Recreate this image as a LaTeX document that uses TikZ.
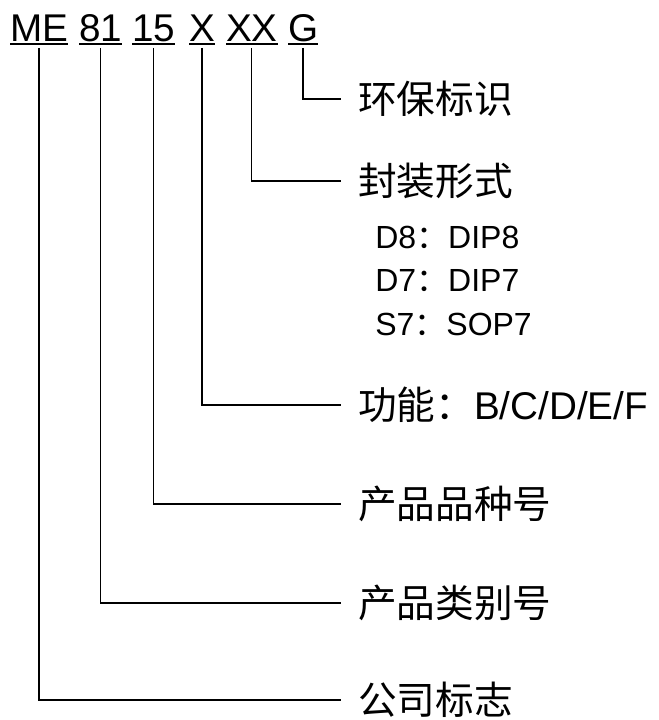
\documentclass[tikz,border=0pt]{standalone}
\usepackage{fontspec}
\setmainfont{Liberation Sans}
\newfontfamily\cjk{Noto Sans CJK SC}
\usetikzlibrary{positioning}

\begin{document}
\begin{tikzpicture}[x=0.75pt, y=-0.75pt,
    seg/.style={anchor=base west, inner sep=0pt, outer sep=0pt,
        font=\fontsize{29}{29}\selectfont, text height=21pt, text depth=0pt},
    lbl/.style={anchor=west, inner xsep=12.75pt, inner ysep=0pt, outer sep=0pt,
        font=\fontsize{29}{29}\selectfont},
    pkg/.style={anchor=base west, inner sep=0pt, font=\fontsize{24}{24}\selectfont},
    leader/.style={line width=1pt, shorten <=4.5pt},
    uline/.style={line width=1pt}]

    \useasboundingbox (0,0) rectangle (659,720);

    % Code segments
    \node[seg] (ME)  at (10,42)  {ME};
    \node[seg] (C81) at (79,42)  {81};
    \node[seg] (C15) at (132,42) {15};
    \node[seg] (CX)  at (189,42) {X};
    \node[seg] (CXX) at (226,42) {XX};
    \node[seg] (CG)  at (288,42) {G};
    \foreach \s in {ME,C81,C15,CX,CXX,CG}
        \draw[uline] ([yshift=-1.5pt]\s.south west) -- ([yshift=-1.5pt]\s.south east);

    % Labels
    \node[lbl] (env)  at (341,99)  {\cjk 环保标识};
    \node[lbl] (pack) at (341,181) {\cjk 封装形式};
    \node[pkg] (D8)   at (375,248) {D8{\cjk ：}DIP8};
    \node[pkg] (D7)   at (375,291) {D7{\cjk ：}DIP7};
    \node[pkg] (S7)   at (375,335) {S7{\cjk ：}SOP7};
    \node[lbl] (func) at (341,405) {{\cjk 功能：}B/C/D/E/F};
    \node[lbl] (kind) at (341,504) {\cjk 产品品种号};
    \node[lbl] (cat)  at (341,603) {\cjk 产品类别号};
    \node[lbl] (corp) at (341,700) {\cjk 公司标志};

    % Leaders
    \draw[leader] (CG.south)  |- (env.west);
    \draw[leader] (CXX.south) |- (pack.west);
    \draw[leader] (CX.south)  |- (func.west);
    \draw[leader] (C15.south) |- (kind.west);
    \draw[leader] (C81.south) |- (cat.west);
    \draw[leader] (ME.south)  |- (corp.west);
\end{tikzpicture}
\end{document}
